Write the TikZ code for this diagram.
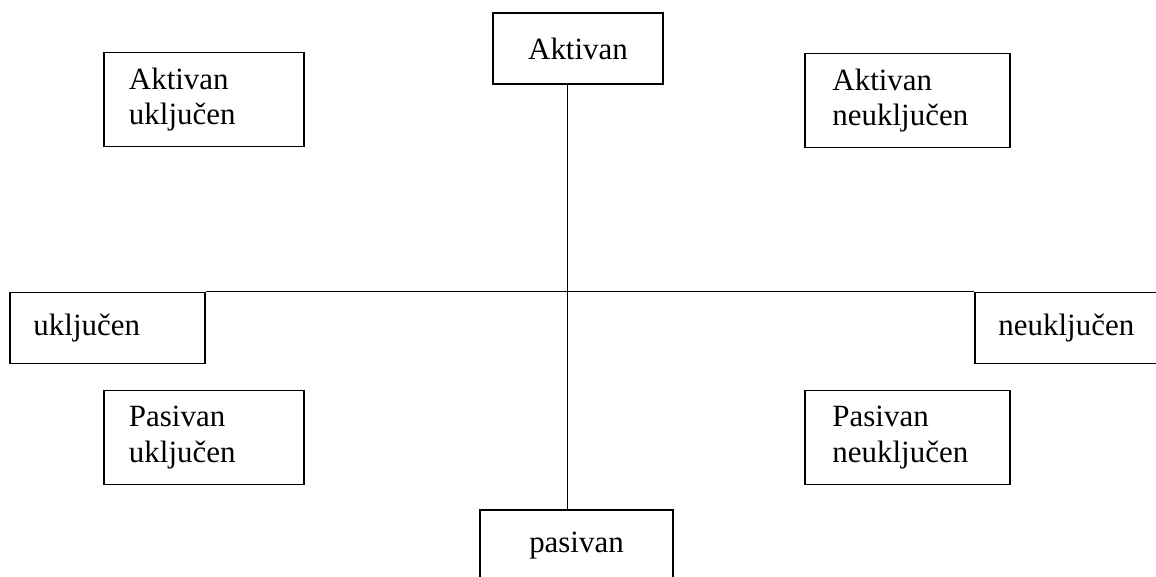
\documentclass[tikz,border=0pt]{standalone}
\usepackage{fontspec}
\setmainfont{Liberation Serif}
\usetikzlibrary{positioning}

\begin{document}
\begin{tikzpicture}[x=0.025cm,y=-0.025cm,line width=1.2pt,
    kvadrant/.style={draw,minimum width=5cm,minimum height=2.35cm,text width=3.75cm,
      align=left,inner sep=0pt,font=\fontsize{22}{25}\selectfont},
    pol/.style={draw,minimum height=1.78cm,inner sep=0pt,font=\fontsize{22}{25}\selectfont},
    strana/.style={pol,minimum width=4.875cm,text width=3.7cm,align=left}]
        \useasboundingbox (0,0) rectangle (1156,577);
        \clip (0,0) rectangle (1156,577);
        \node[pol,minimum width=4.25cm] (akt) at (578,48.5) {Aktivan};
        \node[pol,minimum width=4.825cm] (pas) at (576.5,545.5) {pasivan};
        \node[strana] (ukl) at (107.5,328) {uključen};
        \node[strana] (neukl) at (1072.5,328) {neuključen};
        \node[kvadrant] (aukl) at (204,99.5) {Aktivan\\uključen};
        \node[kvadrant,minimum width=5.125cm] (aneukl) at (907.5,100.5) {Aktivan\\neuključen};
        \node[kvadrant] (pukl) at (204,437.5) {Pasivan\\uključen};
        \node[kvadrant,minimum width=5.125cm] (pneukl) at (907.5,437.5) {Pasivan\\neuključen};
        \draw ([xshift=-0.26cm]akt.south) -- ([xshift=-0.26cm]akt.south |- pas.north);
        \draw (ukl.north east) -- (neukl.north west);
      \end{tikzpicture}
\end{document}
